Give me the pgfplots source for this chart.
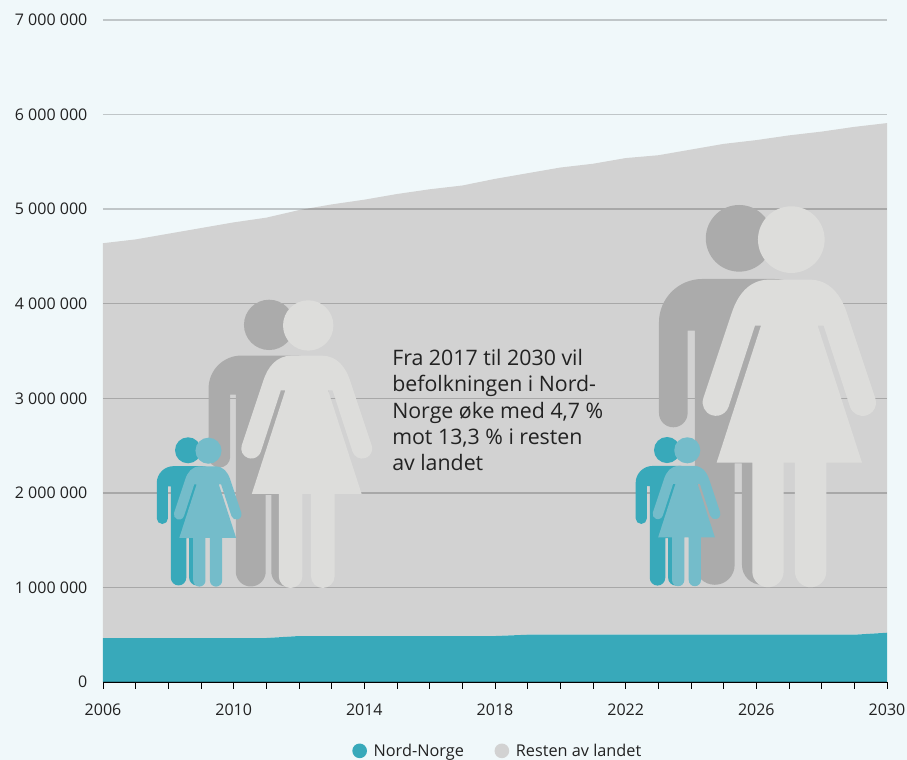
\documentclass[border=0pt]{standalone}
\usepackage{fontspec}
\setmainfont{Open Sans}
\usepackage{pgfplots}
\pgfplotsset{compat=1.18}
\usepackage{pgfplotstable}

\definecolor{bgc}{HTML}{F0F8FA}
\definecolor{tealc}{HTML}{38A9BA}
\definecolor{restc}{HTML}{D2D2D2}
\definecolor{manc}{HTML}{ABABAB}
\definecolor{womanc}{HTML}{DDDDDB}
\definecolor{girlc}{HTML}{74BCCA}
\definecolor{txtc}{HTML}{222222}

% people, drawn in the units of the big figures: x from body centre, y down from top of head
\newcommand{\man}[4]{%
\begin{scope}[shift={(#1,760-#2)},x=#3*0.75pt,y=#3*0.75pt]
\fill[#4] (2.5,-100) circle[radius=100];
\fill[#4] (-130,-377) -- (-130,-1080) arc[start angle=180,end angle=360,radius=59.5]
 -- (-11,-775) -- (11,-775) -- (11,-1080) arc[start angle=180,end angle=360,radius=59.5]
 -- (130,-377) -- (152,-377) -- (152,-624) arc[start angle=180,end angle=360,radius=43]
 -- (238,-352) arc[start angle=0,end angle=90,radius=130]
 -- (-108,-222) arc[start angle=90,end angle=180,radius=130]
 -- (-238,-624) arc[start angle=180,end angle=360,radius=43]
 -- (-152,-377) -- cycle;
\end{scope}}
\newcommand{\woman}[4]{%
\begin{scope}[shift={(#1,760-#2)},x=#3*0.75pt,y=#3*0.75pt]
\fill[#4] (6,-100) circle[radius=100];
\fill[#4] (-85,-358) -- (-218,-769) -- (-111,-769) -- (-111,-1096)
 arc[start angle=180,end angle=360,radius=47] -- (-17,-769) -- (17,-769) -- (17,-1096)
 arc[start angle=180,end angle=360,radius=47] -- (111,-769) -- (218,-769) -- (85,-358)
 -- (103,-358) -- (182,-601) arc[start angle=197.5,end angle=378.5,radius=40]
 -- (173,-321) .. controls (155,-265) and (120,-220) .. (60,-220) -- (-60,-220)
 .. controls (-120,-220) and (-155,-265) .. (-173,-321) -- (-258,-576)
 arc[start angle=161.5,end angle=342.5,radius=40] -- (-103,-358) -- cycle;
\end{scope}}

\begin{document}
\begin{tikzpicture}[x=0.75pt,y=0.75pt]
\fill[bgc] (0,0) rectangle (907,760);
\useasboundingbox (0,0) rectangle (907,760);
\begin{axis}[
  at={(77.25pt,58.5pt)}, anchor=south west,
  scale only axis, width=588pt, height=496.5pt,
  xmin=2006, xmax=2030, ymin=0, ymax=7000000,
  stack plots=y, axis on top,
  axis lines=left, axis line style={-, black},
  y axis line style={draw=none},
  xtick={2006,2010,2014,2018,2022,2026,2030},
  minor x tick num=3,
  ytick={0,1000000,2000000,3000000,4000000,5000000,6000000,7000000},
  scaled y ticks=false,
  ymajorgrids, major grid style={black, opacity=0.2, line width=1pt},
  tick align=outside, major tick length=5.25pt, minor tick length=5.25pt,
  x tick style={black, line width=0.6pt},
  y tick style={draw=none},
  tick label style={font=\fontsize{12}{14}\selectfont, text=txtc},
  x tick label style={inner xsep=0pt, /pgf/number format/1000 sep={}, /pgf/number format/fixed, /pgf/number format/assume math mode=true, yshift=-7.5pt},
  y tick label style={/pgf/number format/1000 sep={\ }, /pgf/number format/fixed, /pgf/number format/assume math mode=true, xshift=-3pt},
  legend columns=2,
  legend style={at={(0.504,-0.104)}, anchor=center, draw=none, fill=none,
    font=\fontsize{12.2}{14}\selectfont, text=txtc,
    /tikz/every even column/.append style={column sep=21pt},
    /tikz/every odd column/.append style={column sep=3pt}},
  legend image code/.code={\fill[#1] (0.25cm,0) circle (5.5pt);},
]
\addplot[fill=tealc, draw=none] coordinates {
 (2006,465000) (2007,465000) (2008,465000) (2009,465000) (2010,465000) (2011,465000)
 (2012,486000) (2013,486000) (2014,486000) (2015,486000) (2016,486000) (2017,486000) (2018,486000)
 (2019,500000) (2020,500000) (2021,500000) (2022,500000) (2023,500000) (2024,500000)
 (2025,500000) (2026,500000) (2027,500000) (2028,500000) (2029,500000) (2030,521000)
} \closedcycle;
\addlegendentry{Nord-Norge}
\addplot[fill=restc, draw=none] coordinates {
 (2006,4175000) (2007,4215000) (2008,4275000) (2009,4335000) (2010,4395000) (2011,4445000)
 (2012,4504000) (2013,4564000) (2014,4614000) (2015,4674000) (2016,4724000) (2017,4764000) (2018,4834000)
 (2019,4880000) (2020,4940000) (2021,4980000) (2022,5040000) (2023,5070000) (2024,5130000)
 (2025,5190000) (2026,5230000) (2027,5280000) (2028,5320000) (2029,5370000) (2030,5389000)
} \closedcycle;
\addlegendentry{Resten av landet}
\end{axis}
\man{738.3}{205}{0.3333}{manc}
\woman{789.3}{206.3}{0.3333}{womanc}
\man{268.5}{299.7}{0.2517}{manc}
\woman{306.7}{300.3}{0.2517}{womanc}
\man{187.7}{437.3}{0.13}{tealc}
\woman{207.7}{437.7}{0.1303}{girlc}
\man{666.7}{437}{0.1304}{tealc}
\woman{686.5}{437.3}{0.1303}{girlc}
\node[anchor=north west, align=left, inner sep=0pt, text=txtc, font=\fontsize{16}{19.7}\selectfont] at (392,760-349)
 {Fra 2017 til 2030 vil\\befolkningen i Nord-\\Norge øke med 4,7 \%\\mot 13,3 \% i resten\\av landet};
\end{tikzpicture}
\end{document}
